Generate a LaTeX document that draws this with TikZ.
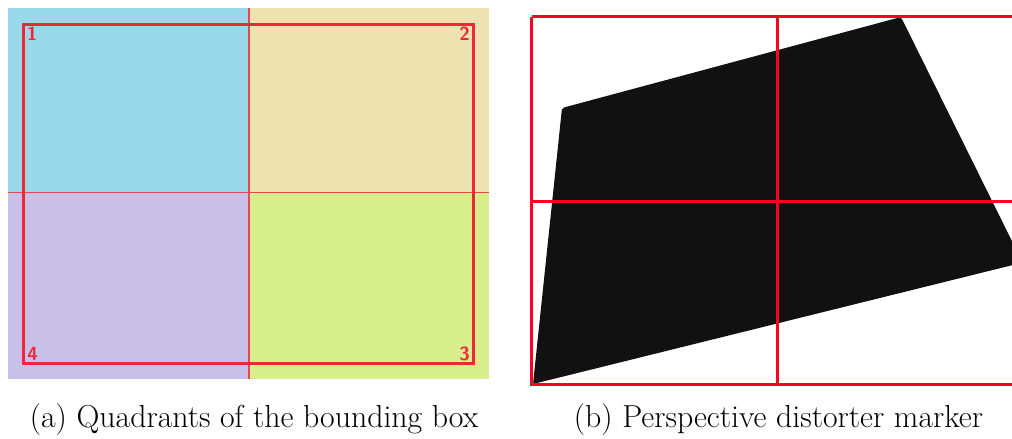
\documentclass[tikz,border=0pt]{standalone}
\usepackage{fontspec}
\begin{document}
\begin{tikzpicture}[x=1pt,y=-1pt,
  redbox/.style={draw=boxred,line width=3pt},
  divider/.style={draw=divred,line width=1.4pt},
  markerline/.style={draw=mred,line width=3pt},
  cornerlbl/.style={text=boxred,font=\sffamily\bfseries\fontsize{19}{19}\selectfont,inner sep=0pt},
  caption/.style={font=\fontsize{31.8}{36}\selectfont,inner sep=0pt,anchor=base}]
\definecolor{qblue}{HTML}{9AD9E9}
\definecolor{qtan}{HTML}{EEE2B0}
\definecolor{qpurple}{HTML}{C8C0E6}
\definecolor{qgreen}{HTML}{D8ED8C}
\definecolor{boxred}{HTML}{EE2838}
\definecolor{divred}{HTML}{E8484C}
\definecolor{mred}{HTML}{FF0025}
\definecolor{mblack}{HTML}{111111}
\useasboundingbox (0,0) rectangle (1012,439);
% (a) quadrants
\fill[qblue] (8,8) rectangle (249,192.5);
\fill[qtan] (249,8) rectangle (489,192.5);
\fill[qpurple] (8,192.5) rectangle (249,379);
\fill[qgreen] (249,192.5) rectangle (489,379);
\draw[divider] (249,8) -- (249,379);
\draw[divider] (8,192.5) -- (489,192.5);
\draw[redbox] (23.5,24) rectangle (473.5,363.5);
\node[cornerlbl] (n1) at (32,34) {1};
\node[cornerlbl] (n2) at (464.5,34) {2};
\node[cornerlbl] (n3) at (464.5,353.5) {3};
\node[cornerlbl] (n4) at (32.5,353.5) {4};
\node[caption] (capa) at (254,427) {(a) Quadrants of the bounding box};
% (b) marker
\begin{scope}
\clip (510,0) rectangle (1012,439);
\fill[mblack,rounded corners=2pt] (562,108) -- (901,17) -- (1022.6,262.6) -- (533,384) -- cycle;
\draw[markerline] (531.5,16.5) -- (1020,16.5);
\draw[markerline] (531.5,16.5) -- (531.5,384.5) -- (1020,384.5);
\draw[markerline] (531.5,201) -- (1020,201);
\draw[markerline] (777,16.5) -- (777,384.5);
\end{scope}
\node[caption] (capb) at (778.5,427) {(b) Perspective distorter marker};
\end{tikzpicture}
\end{document}
